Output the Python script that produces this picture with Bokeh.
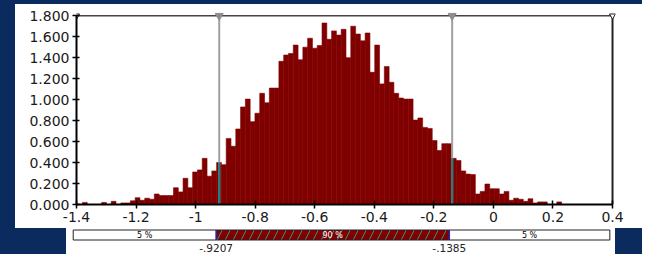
import numpy as np
from bokeh.plotting import figure
from bokeh.layouts import column, row
from bokeh.models import Range1d, FixedTicker, NumeralTickFormatter, Spacer
from bokeh.core.properties import value
from bokeh.embed import file_html
from bokeh.resources import INLINE

# ---------------- data ----------------
density = [
    0.02, 0.0, 0.0, 0.0, 0.02, 0.0, 0.03, 0.0, 0.015, 0.015,
    0.035, 0.065, 0.04, 0.06, 0.05, 0.10, 0.085, 0.085, 0.085, 0.16,
    0.12, 0.25, 0.16, 0.31, 0.33, 0.44, 0.27, 0.32, 0.40, 0.38,
    0.63, 0.555, 0.72, 0.93, 1.005, 0.79, 0.87, 1.06, 0.97, 1.11,
    1.11, 1.365, 1.425, 1.44, 1.52, 1.38, 1.50, 1.585, 1.49, 1.515,
    1.73, 1.575, 1.655, 1.615, 1.67, 1.40, 1.70, 1.625, 1.56, 1.635,
    1.26, 1.52, 1.15, 1.315, 1.165, 1.06, 1.015, 1.005, 1.005, 0.805,
    0.825, 0.735, 0.725, 0.61, 0.515, 0.58, 0.58, 0.44, 0.42, 0.32,
    0.29, 0.285, 0.10, 0.125, 0.195, 0.15, 0.15, 0.10, 0.125, 0.04,
    0.06, 0.05, 0.03, 0.055, 0.015, 0.025, 0.025, 0.0, 0.0, 0.025,
]
hist_start = -1.38
hist_end = 0.229

x_ticks = [-1.4, -1.2, -1.0, -0.8, -0.6, -0.4, -0.2, 0.0, 0.2, 0.4]
x_tick_labels = ["-1.4", "-1.2", "-1", "-0.8", "-0.6", "-0.4", "-0.2", "0", "0.2", "0.4"]
y_ticks = [0.0, 0.2, 0.4, 0.6, 0.8, 1.0, 1.2, 1.4, 1.6, 1.8]

x_min, x_max = -1.4, 0.4
y_max = 1.8
lower_q = -0.9207
upper_q = -0.1385
q_labels = ["-.9207", "-.1385"]
segment_labels = ["5 %", "90 %", "5 %"]

# ---------------- styles ----------------
NAVY = "#0b2b5f"
BAR = "#800000"
FONT = "DejaVu Sans"

edges = np.linspace(hist_start, hist_end, len(density) + 1)
width = edges[1] - edges[0]

def bar_height(q):
    i = int((q - hist_start) / width)
    return density[i]

# ---------------- top histogram ----------------
p = figure(width=627, height=224,
           x_range=Range1d(x_min, x_max + 0.01), y_range=Range1d(0, y_max + 0.04),
           output_backend="svg", toolbar_location=None,
           min_border_left=61, min_border_right=27, min_border_top=7, min_border_bottom=24)
p.background_fill_color = "white"
p.border_fill_color = "white"
p.outline_line_color = None
p.xgrid.visible = False
p.ygrid.visible = False

p.quad(left=edges[:-1], right=edges[1:], bottom=0, top=density,
       fill_color=BAR, line_color=BAR, line_width=0.6)

# frame lines top / right
p.segment(x0=[x_min], y0=[y_max], x1=[x_max], y1=[y_max], line_color="#444444", line_width=1.5)
p.segment(x0=[x_max], y0=[0], x1=[x_max], y1=[y_max], line_color="#222222", line_width=2)

# quantile lines
qs = [lower_q, upper_q]
p.segment(x0=qs, y0=[0, 0], x1=qs, y1=[y_max, y_max], line_color="#a0a0a0", line_width=2)
p.segment(x0=qs, y0=[0, 0], x1=qs, y1=[bar_height(q) for q in qs], line_color="#1f7c7c", line_width=2)

# slider markers
p.scatter(x=qs, y=[y_max, y_max], marker="inverted_triangle", size=8,
          fill_color="#8c8c8c", line_color="#8c8c8c")
p.scatter(x=[x_min, x_max], y=[y_max, y_max], marker="inverted_triangle", size=6,
          fill_color="white", line_color="#222222", line_width=1)

for ax in (p.xaxis[0], p.yaxis[0]):
    ax.axis_line_color = "black"
    ax.axis_line_width = 2
    ax.major_tick_line_color = "black"
    ax.major_tick_line_width = 1.5
    ax.minor_tick_line_color = None
    ax.major_label_text_font = FONT
    ax.major_label_text_color = "#1a1a1a"

xa = p.xaxis[0]
xa.ticker = FixedTicker(ticks=x_ticks)
xa.major_label_overrides = {t: l for t, l in zip(x_ticks, x_tick_labels)}
xa.bounds = (x_min, x_max)
xa.major_tick_in = 4
xa.major_tick_out = 4
xa.major_label_standoff = 3
xa.major_label_text_font_size = "14px"

ya = p.yaxis[0]
ya.ticker = FixedTicker(ticks=y_ticks)
ya.formatter = NumeralTickFormatter(format="0.000")
ya.bounds = (0, y_max)
ya.major_tick_in = 3
ya.major_tick_out = 4
ya.major_label_standoff = 3
ya.major_label_text_font_size = "14px"

# ---------------- bottom probability bar ----------------
b = figure(width=549, height=26,
           x_range=Range1d(-1.4225, 0.419), y_range=Range1d(26, 0),
           output_backend="svg", toolbar_location=None, min_border=0,
           x_axis_type=None, y_axis_type=None)
b.background_fill_color = "white"
b.border_fill_color = "white"
b.outline_line_color = None
b.xgrid.visible = False
b.ygrid.visible = False

bt, bb = 1.5, 11.5
b.quad(left=[x_min, upper_q], right=[lower_q, x_max], top=bt, bottom=bb,
       fill_color="white", line_color=None)
b.quad(left=[lower_q], right=[upper_q], top=bt, bottom=bb,
       fill_color=BAR, line_color=None,
       hatch_pattern="/", hatch_color="#3d8f8f", hatch_scale=16, hatch_weight=1)
b.quad(left=[x_min], right=[x_max], top=bt, bottom=bb,
       fill_color=None, line_color="#222222", line_width=1)
b.segment(x0=qs, y0=[bt, bt], x1=qs, y1=[bb, bb], line_color="#2424a8", line_width=1.5)

seg_x = [(x_min + lower_q) / 2, (lower_q + upper_q) / 2, (upper_q + x_max) / 2]
b.text(x=seg_x, y=[6.5, 6.5, 6.5], text=segment_labels,
       text_color=["black", "white", "black"], text_font=value(FONT),
       text_font_size="8px", text_align="center", text_baseline="middle")
b.text(x=qs, y=[19.5, 19.5], text=q_labels, text_color="#222222", text_font=value(FONT),
       text_font_size="10.5px", text_align="center", text_baseline="alphabetic")

layout = column(
    Spacer(width=642, height=4, styles={"background-color": NAVY}),
    row(Spacer(width=15, height=224, styles={"background-color": NAVY}), p),
    row(Spacer(width=66, height=26, styles={"background-color": NAVY}), b,
        Spacer(width=27, height=26, styles={"background-color": NAVY})),
)

open("out.html", "w").write(file_html(layout, INLINE))
